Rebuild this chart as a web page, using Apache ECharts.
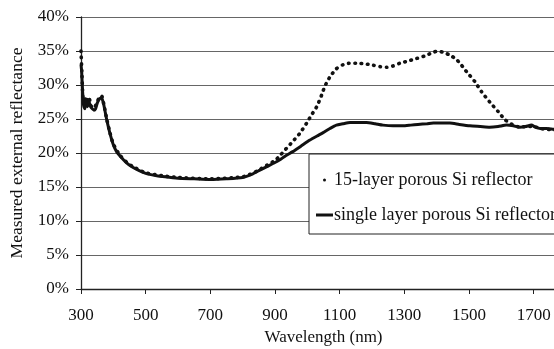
<!DOCTYPE html>
<html>
<head>
<meta charset="utf-8">
<script src="https://cdn.jsdelivr.net/npm/echarts@6/dist/echarts.min.js"></script>
<style>
html,body{margin:0;padding:0;background:#fff;}
#chart{width:554px;height:349px;}
</style>
</head>
<body>
<div id="chart"></div>
<script>
// Wavelength (nm) / reflectance (%) pairs
const singleWl = [300,302,305,308,312,316,320,325,330,335,340,345,350,355,360,365,370,375,380,390,400,410,420,440,460,480,500,530,560,600,650,700,750,800,830,850,875,900,915,930,955,980,1008,1030,1049,1070,1090,1110,1132,1160,1183,1210,1234,1265,1295,1320,1342,1370,1390,1420,1441,1470,1503,1535,1564,1590,1616,1637,1657,1675,1693,1705,1720,1740,1762,1800];
const singleR  = [33.0,32.0,29.0,27.0,26.5,27.8,26.8,27.5,26.8,26.5,26.3,26.5,27.3,27.8,28.1,28.0,27.2,26.0,24.8,22.8,21.2,20.2,19.6,18.6,17.9,17.4,17.0,16.7,16.5,16.3,16.2,16.1,16.2,16.4,16.9,17.4,18.0,18.6,19.0,19.5,20.2,21.0,21.9,22.5,23.0,23.6,24.1,24.3,24.5,24.5,24.5,24.3,24.1,24.0,24.0,24.1,24.2,24.3,24.4,24.4,24.4,24.2,24.0,23.9,23.8,23.9,24.1,24.0,23.8,23.9,24.1,23.8,23.6,23.6,23.5,23.4];

const multiWl = [300,303,306,310,315,320,325,330,340,350,360,365,370,380,390,400,420,440,460,500,560,600,700,800,830,850,875,900,915,930,955,977,998,1013,1029,1044,1054,1070,1090,1111,1130,1152,1180,1204,1225,1245,1265,1286,1310,1338,1365,1389,1405,1420,1441,1460,1472,1485,1497,1518,1539,1564,1590,1611,1637,1657,1680,1700,1720,1740,1762,1800];
const multiR  = [35.0,31.5,28.0,27.2,28.3,27.3,28.2,27.0,26.6,27.5,28.4,28.3,27.3,24.9,22.9,21.3,19.7,18.7,18.0,17.1,16.6,16.4,16.2,16.5,17.0,17.5,18.2,18.9,19.6,20.4,21.7,22.9,24.4,25.6,26.8,28.5,29.8,31.2,32.4,33.0,33.2,33.2,33.1,32.9,32.7,32.6,32.8,33.2,33.5,33.9,34.3,34.8,35.0,34.8,34.4,33.8,33.2,32.4,31.7,30.5,29.0,27.5,26.1,24.9,24.1,23.8,23.9,23.9,23.6,23.5,23.4,23.3];

const seriesNames = ['15-layer porous Si reflector','single layer porous Si reflector'];
const yTicks = [0,5,10,15,20,25,30,35,40];
const xTicks = [300,500,700,900,1100,1300,1500,1700];

const FONT = 'Liberation Serif';
const zip = (a,b) => a.map((v,i)=>[v,b[i]]);

const chart = echarts.init(document.getElementById('chart'), null, {renderer:'canvas'});
chart.setOption({
  animation:false,
  backgroundColor:'#fff',
  grid:{left:81, top:17, bottom:60, right:-12, outerBoundsMode:'none', containLabel:false},
  xAxis:{
    type:'value', min:xTicks[0], max:1800, interval:200,
    name:'Wavelength (nm)', nameLocation:'middle', nameGap:34,
    nameTextStyle:{fontFamily:FONT, fontSize:17, color:'#111'},
    axisLine:{show:true, onZero:false, lineStyle:{color:'#222', width:1.3}},
    axisTick:{show:true, inside:false, length:5, lineStyle:{color:'#222'}},
    axisLabel:{fontFamily:FONT, fontSize:17, color:'#111', margin:18, showMaxLabel:false,
      formatter:(v)=>String(v)},
    splitLine:{show:false}
  },
  yAxis:{
    type:'value', min:yTicks[0], max:yTicks[yTicks.length-1], interval:5,
    name:'Measured external reflectance', nameLocation:'middle', nameGap:55, nameRotate:90,
    nameTextStyle:{fontFamily:FONT, fontSize:17.5, color:'#111'},
    axisLine:{show:true, lineStyle:{color:'#222', width:1.3}},
    axisTick:{show:true, inside:false, length:5, lineStyle:{color:'#222'}},
    axisLabel:{fontFamily:FONT, fontSize:17, color:'#111', margin:12, formatter:'{value}%'},
    splitLine:{show:true, lineStyle:{color:'#666', width:1}}
  },
  legend:{
    orient:'vertical', left:309, top:154,
    padding:[17,60,10,7], itemGap:17, itemWidth:17, itemHeight:3,
    borderColor:'#222', borderWidth:1, backgroundColor:'#fff',
    textStyle:{fontFamily:FONT, fontSize:18, color:'#111', padding:[0,0,0,-4]},
    data:[
      {name:seriesNames[0], icon:'circle'},
      {name:seriesNames[1], icon:'rect'}
    ]
  },
  series:[
    {
      name:seriesNames[0], type:'line', data:zip(multiWl,multiR),
      showSymbol:false, symbol:'none', smooth:0.2, z:2,
      itemStyle:{color:'#111'},
      lineStyle:{color:'#111', width:3.6, type:[0.6,5.8], cap:'round'}
    },
    {
      name:seriesNames[1], type:'line', data:zip(singleWl,singleR),
      showSymbol:false, symbol:'none', smooth:0.2, z:3,
      itemStyle:{color:'#111'},
      lineStyle:{color:'#111', width:3}
    }
  ]
});
</script>
</body>
</html>
